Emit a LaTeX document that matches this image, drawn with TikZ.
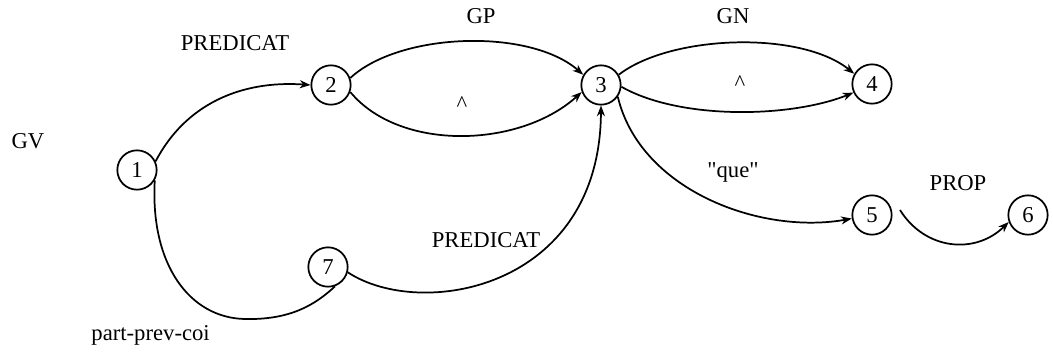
\documentclass[tikz,border=0pt]{standalone}
\usepackage{fontspec}
\setmainfont{Liberation Serif}[Ligatures=TeXOff]
\usetikzlibrary{arrows.meta}
\begin{document}
\begin{tikzpicture}[x=0.75pt,y=-0.75pt,
  every node/.style={font=\fontsize{17}{20}\selectfont},
  state/.style={draw,circle,line width=1.3pt,minimum size=29.5pt,inner sep=0pt},
  lbl/.style={inner sep=0pt},
  arc/.style={line width=1.3pt},
  arr/.style={arc,-{Stealth[length=8pt,width=6pt,inset=2.5pt]}}]
\useasboundingbox (0,0) rectangle (1053,358);
% states
\node[state] (n1) at (137,170) {1};
\node[state] (n2) at (331,85) {2};
\node[state] (n3) at (601,85) {3};
\node[state] (n4) at (872,84) {4};
\node[state] (n5) at (872,215) {5};
\node[state] (n6) at (1028,215) {6};
\node[state] (n7) at (328,267) {7};
\coordinate (p5) at (900,210);
% labels
\node[lbl] (lgv) at (28,141) {GV};
\node[lbl] (lpred1) at (235,43) {PREDICAT};
\node[lbl] (lgp) at (481,16) {GP};
\node[lbl] (lgn) at (733,16) {GN};
\node[lbl] (lw1) at (462,104) {\char`^};
\node[lbl] (lw2) at (740,83) {\char`^};
\node[lbl] (lque) at (733,172) {"que"};
\node[lbl] (lprop) at (958,183) {PROP};
\node[lbl] (lpred2) at (486,240) {PREDICAT};
\node[lbl,anchor=base east] (lppc) at (210,340) {part-prev-coi};
% transitions
\draw[arr] (n1.25) .. controls (185,105) and (240,80) .. (n2.west);
\draw[arr] (n2.20) .. controls (400,32) and (530,28) .. (n3.150);
\draw[arr] (n2.-20) .. controls (400,152) and (520,148) .. (n3.200);
\draw[arr] (n3.30) .. controls (670,35) and (800,30) .. (n4.150);
\draw[arr] (n3.-5) .. controls (680,120) and (790,118) .. (n4.205);
\draw[arr] (n3.-35) .. controls (640,190) and (760,235) .. (n5.190);
\draw[arr] (p5) .. controls (925,250) and (975,255) .. (n6.200);
\draw[arc] (n1.-30) .. controls (150,265) and (190,318) .. (245,319)
  .. controls (290,320) and (315,305) .. (n7.-70);
\draw[arr] (n7.-15) .. controls (420,320) and (600,290) .. (n3.south);
\end{tikzpicture}
\end{document}
